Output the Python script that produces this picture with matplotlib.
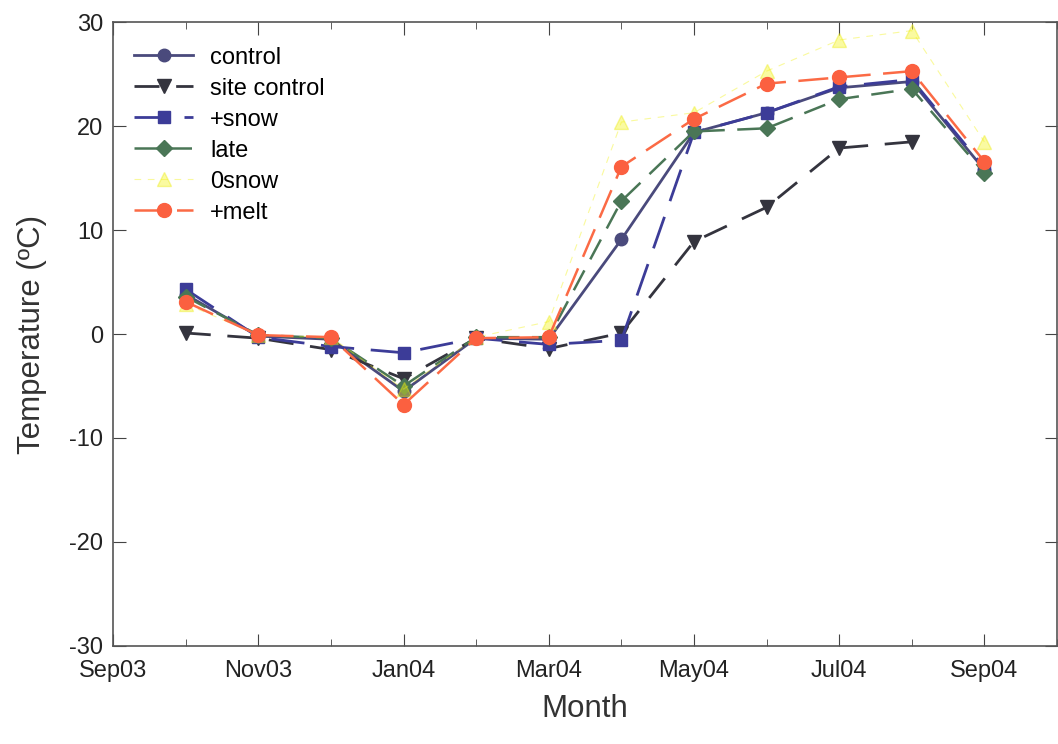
import numpy as np
import matplotlib
matplotlib.use("Agg")
import matplotlib.pyplot as plt
from matplotlib.ticker import MultipleLocator

plt.rcParams['font.family'] = ['Liberation Sans', 'DejaVu Sans']
plt.rcParams['axes.unicode_minus'] = False

# months counted from Sep03 (= 0)
month_idx = np.arange(1, 13)  # Oct03 .. Sep04
tick_pos = np.arange(0, 13, 2)
tick_labels = ["Sep03", "Nov03", "Jan04", "Mar04", "May04", "Jul04", "Sep04"]

control = [3.8, -0.2, -0.5, -5.5, -0.4, -0.5, 9.1, 19.4, 21.3, 23.7, 24.3, 15.8]
site_control = [0.1, -0.4, -1.5, -4.3, -0.4, -1.4, 0.1, 8.9, 12.2, 17.9, 18.5, np.nan]
plus_snow = [4.3, -0.3, -1.2, -1.8, -0.4, -1.0, -0.6, 19.4, 21.3, 23.8, 24.5, 16.0]
late = [3.6, -0.1, -0.4, -5.0, -0.3, -0.3, 12.8, 19.5, 19.8, 22.6, 23.6, 15.5]
zero_snow = [2.9, -0.1, -0.3, -5.3, -0.3, 1.2, 20.4, 21.3, 25.3, 28.3, 29.2, 18.5]
plus_melt = [3.1, -0.1, -0.3, -6.8, -0.4, -0.3, 16.1, 20.7, 24.1, 24.7, 25.3, 16.6]

fig = plt.figure(figsize=(10.58, 7.44), dpi=100)
ax = fig.add_axes([0.107, 0.132, 0.892, 0.838])

ax.plot(month_idx, control, '-', color='#4a4a7c', lw=2, marker='o', ms=9, label='control')
ax.plot(month_idx, site_control, color='#34343e', lw=2, dashes=(9, 6), marker='v', ms=10, label='site control')
ax.plot(month_idx, plus_snow, color='#3c3c98', lw=2, dashes=(12, 6), marker='s', ms=8, label='+snow')
ax.plot(month_idx, late, color='#4a7656', lw=1.8, dashes=(9, 5), marker='D', ms=8, label='late')
ax.plot(month_idx, zero_snow, color='#f2f20a', lw=0.8, dashes=(6, 6), alpha=0.4, marker='^', ms=10,
        mec='#ecec10', mfc='#f4f414', label='0snow')
ax.plot(month_idx, plus_melt, color='#fb6a45', lw=1.8, dashes=(12, 5), marker='o', ms=10,
        mec='#fb6040', mfc='#fb6040', label='+melt')

ax.set_xlim(0, 13)
ax.set_ylim(-30, 30)
ax.set_xticks(tick_pos)
ax.set_xticklabels(tick_labels)
ax.xaxis.set_minor_locator(MultipleLocator(1))
ax.yaxis.set_major_locator(MultipleLocator(10))

for s in ax.spines.values():
    s.set_color('#555555')
    s.set_linewidth(1.2)
ax.tick_params(which='both', direction='in', top=True, right=True, colors='#444444',
               labelcolor='#222222', labelsize=17)
ax.tick_params(axis='y', pad=7)
ax.tick_params(axis='x', pad=10)
ax.tick_params(which='major', length=9)
ax.tick_params(which='minor', length=5)

ax.set_xlabel('Month', fontsize=22.5, labelpad=9, color='#333333')
ax.set_ylabel('Temperature (ºC)', fontsize=22.5, labelpad=16, color='#333333')

leg = ax.legend(loc='upper left', frameon=False, fontsize=17, handlelength=2.5,
                labelspacing=0.38, borderaxespad=0.5, handletextpad=0.7,
                bbox_to_anchor=(0.0, 0.995))

fig.savefig('out.png', dpi=100)
